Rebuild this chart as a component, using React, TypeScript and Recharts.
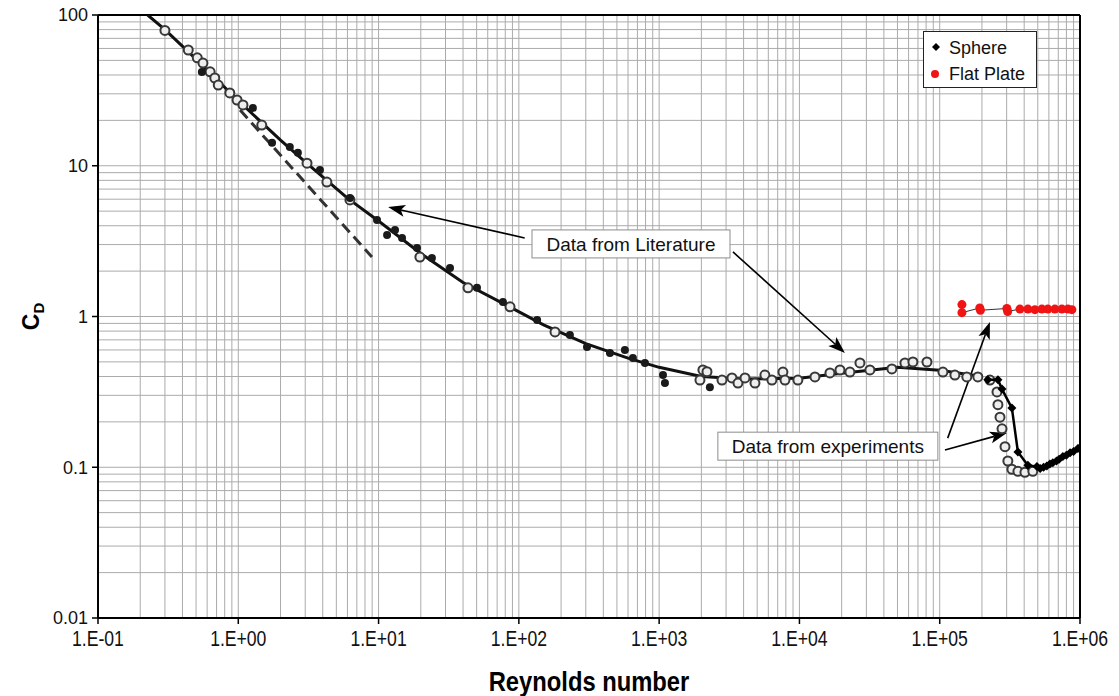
import React from "react";
import { ComposedChart, Scatter, XAxis, YAxis, ReferenceLine, ReferenceDot } from "recharts";

// axis structure
const xDecades = [0.1, 1, 10, 100, 1000, 10000, 100000, 1000000];
const yDecades = [0.01, 0.1, 1, 10, 100];
const minorSteps = [2, 3, 4, 5, 6, 7, 8, 9];

// Literature data, open circles [Re, Cd]
const literatureOpen: [number, number][] = [
  [0.3, 79], [0.44, 58.6], [0.51, 52], [0.56, 48], [0.63, 42], [0.68, 38.2], [0.72, 34.3],
  [0.87, 30.4], [0.98, 27.3], [1.08, 25.3], [1.47, 18.6], [3.09, 10.4], [4.28, 7.8], [6.25, 5.93],
  [19.7, 2.48], [43.4, 1.55], [86.5, 1.16], [181, 0.79],
  [1954, 0.379], [2051, 0.442], [2193, 0.43], [2805, 0.379], [3304, 0.391], [3647, 0.362],
  [4093, 0.391], [4820, 0.362], [5675, 0.409], [6368, 0.379], [7627, 0.428], [7889, 0.379],
  [9750, 0.379], [12900, 0.397], [16500, 0.422], [19450, 0.442], [22900, 0.428], [27000, 0.492],
  [31800, 0.442], [45600, 0.449], [56500, 0.492], [64400, 0.499], [81100, 0.499],
  [105400, 0.428], [128300, 0.409], [156000, 0.397], [187000, 0.397], [228000, 0.379],
  [256000, 0.316], [260000, 0.26], [269000, 0.215], [278000, 0.18], [292000, 0.137],
  [306000, 0.11], [327000, 0.097], [361000, 0.094], [405000, 0.0925], [461000, 0.094],
];

// Literature data, filled dots [Re, Cd]
const literatureFilled: [number, number][] = [
  [0.55, 41.9], [1.27, 24.2], [1.74, 14.2], [2.33, 13.3], [2.66, 12.2], [3.82, 9.37], [6.25, 6.11],
  [9.75, 4.36], [11.5, 3.47], [13.1, 3.75], [14.7, 3.32], [18.8, 2.85], [24, 2.44], [32.3, 2.1],
  [50.3, 1.55], [77, 1.25], [135, 0.948], [231, 0.754], [306, 0.628], [446, 0.573], [570, 0.6],
  [650, 0.531], [792, 0.492], [1065, 0.409], [1100, 0.362], [2300, 0.34],
];

// standard drag curve through the literature data
const literatureCurve: [number, number][] = [
  [0.226, 100], [0.3, 80], [0.5, 51], [1, 27], [2, 14.8], [3, 10.6], [6, 6.1], [10, 4.3],
  [20, 2.62], [40, 1.68], [80, 1.2], [150, 0.88], [300, 0.66], [600, 0.53], [1000, 0.46],
  [2000, 0.4], [4000, 0.385], [10000, 0.39], [20000, 0.42], [50000, 0.46], [100000, 0.44],
  [200000, 0.4],
];

// Stokes law (dashed)
const stokesLine: [number, number][] = [[1.03, 23.4], [8.97, 2.48]];

// experiments
const sphere: [number, number][] = [
  [220000, 0.38], [260000, 0.38], [278000, 0.33], [327000, 0.247], [361000, 0.126],
  [425000, 0.103], [493000, 0.101], [520000, 0.098], [550000, 0.1], [580000, 0.102],
  [610000, 0.105], [640000, 0.107], [680000, 0.11], [710000, 0.113], [755000, 0.118],
  [800000, 0.12], [850000, 0.125], [900000, 0.127], [966000, 0.133], [1000000, 0.135],
];

const flatPlate: [number, number][] = [
  [144000, 1.2], [144000, 1.06], [193000, 1.14], [195000, 1.1], [301000, 1.13], [305000, 1.08],
  [373000, 1.12], [425000, 1.12], [477000, 1.11], [535000, 1.12], [590000, 1.12], [662000, 1.12],
  [743000, 1.12], [820000, 1.12], [875000, 1.11],
];

// annotations: box centres and arrows (data coordinates)
const literatureBox = { x: 630, y: 3.03, label: "Data from Literature", width: 198 };
const experimentsBox = { x: 15950, y: 0.138, label: "Data from experiments", width: 220 };
const arrows: [[number, number], [number, number]][] = [
  [[110, 3.32], [11.7, 5.32]],
  [[3360, 2.68], [21100, 0.573]],
  [[109000, 0.13], [301000, 0.169]],
  [[114000, 0.156], [228000, 0.919]],
];

const xGrid = xDecades.slice(0, -1).flatMap((d) => minorSteps.map((m) => d * m)).concat(xDecades.slice(1, -1));
const yGrid = yDecades.slice(0, -1).flatMap((d) => minorSteps.map((m) => d * m)).concat(yDecades.slice(1, -1));

const toPoints = (arr: [number, number][]) => arr.map(([x, y]) => ({ x, y }));

const font = "'Liberation Sans', Arial, sans-serif";

const formatRe = (v: number) => {
  const e = Math.round(Math.log10(v));
  return `1.E${e < 0 ? "-" : "+"}${String(Math.abs(e)).padStart(2, "0")}`;
};

// condensed x tick labels (the original uses a narrow face)
const ReTick = (p: any) => (
  <text
    transform={`translate(${p.x}, ${p.y + 18}) scale(0.8, 1)`}
    textAnchor="middle"
    fontFamily={font}
    fontSize={22}
    fill="#111"
  >
    {formatRe(p.payload.value)}
  </text>
);

const OpenCircle = (p: any) => (
  <circle cx={p.cx} cy={p.cy} r={4.5} fill="#eeeeee" stroke="#383838" strokeWidth={2} />
);
const FilledDot = (p: any) => <circle cx={p.cx} cy={p.cy} r={4} fill="#1a1a1a" />;
const Diamond = (p: any) => (
  <polygon
    points={`${p.cx},${p.cy - 4.5} ${p.cx + 4.5},${p.cy} ${p.cx},${p.cy + 4.5} ${p.cx - 4.5},${p.cy}`}
    fill="#000"
  />
);
const RedDot = (p: any) => <circle cx={p.cx} cy={p.cy} r={4.5} fill="#f01414" />;
const NoMark = () => <g />;

const Arrow = (p: any) => {
  const { x1, y1, x2, y2 } = p;
  const dx = x2 - x1;
  const dy = y2 - y1;
  const len = Math.sqrt(dx * dx + dy * dy);
  const ux = dx / len;
  const uy = dy / len;
  const hl = 17;
  const hw = 6;
  const bx = x2 - ux * hl;
  const by = y2 - uy * hl;
  return (
    <g>
      <line x1={x1} y1={y1} x2={bx + ux * 4} y2={by + uy * 4} stroke="#000" strokeWidth={1.6} />
      <polygon
        points={`${x2},${y2} ${bx - uy * hw},${by + ux * hw} ${bx + ux * 4},${by + uy * 4} ${bx + uy * hw},${by - ux * hw}`}
        fill="#000"
      />
    </g>
  );
};

const makeBox = (label: string, width: number) => (p: any) => (
  <g>
    <rect x={p.cx - width / 2} y={p.cy - 14} width={width} height={28} fill="#fff" stroke="#8c8c8c" strokeWidth={1} />
    <text x={p.cx} y={p.cy + 7} textAnchor="middle" fontFamily={font} fontSize={19} fill="#111">
      {label}
    </text>
  </g>
);

const YTitle = (props: any) => {
  const vb = props.viewBox || { x: 0, y: 15, width: 98, height: 603 };
  const cx = 31;
  const cy = vb.y + vb.height / 2;
  return (
    <text
      transform={`rotate(-90, ${cx}, ${cy})`}
      x={cx}
      y={cy + 8}
      textAnchor="middle"
      fontFamily={font}
      fontWeight="bold"
      fontSize={23}
      fill="#000"
    >
      C<tspan fontSize={15} dy={5}>D</tspan>
    </text>
  );
};

const XTitle = (props: any) => {
  const vb = props.viewBox || { x: 98, y: 618, width: 982, height: 78 };
  return (
    <text
      transform={`translate(${vb.x + vb.width / 2}, ${vb.y + 73}) scale(0.88, 1)`}
      textAnchor="middle"
      fontFamily={font}
      fontWeight="bold"
      fontSize={27}
      fill="#000"
    >
      Reynolds number
    </text>
  );
};

export default function App() {
  return (
    <div style={{ position: "absolute", left: 0, top: 0, width: 1119, height: 696, background: "#fff" }}>
      <ComposedChart width={1119} height={696} margin={{ top: 15, right: 39, bottom: 0, left: 0 }}>
        <XAxis
          type="number"
          dataKey="x"
          scale="log"
          domain={[0.1, 1000000]}
          ticks={xDecades}
          allowDataOverflow
          height={78}
          tickSize={6}
          tickMargin={4}
          axisLine={{ stroke: "#000", strokeWidth: 2 }}
          tickLine={{ stroke: "#000", strokeWidth: 1.5 }}
          tick={<ReTick />}
          label={<XTitle />}
        />
        <YAxis
          type="number"
          dataKey="y"
          scale="log"
          domain={[0.01, 100]}
          ticks={yDecades}
          allowDataOverflow
          width={98}
          tickSize={6}
          tickMargin={4}
          axisLine={{ stroke: "#000", strokeWidth: 2 }}
          tickLine={{ stroke: "#000", strokeWidth: 1.5 }}
          tick={{ fontFamily: font, fontSize: 18, fill: "#111" }}
          label={<YTitle />}
        />
        {xGrid.map((v) => (
          <ReferenceLine key={`gx${v}`} x={v} stroke="#ababab" strokeWidth={1} />
        ))}
        {yGrid.map((v) => (
          <ReferenceLine key={`gy${v}`} y={v} stroke="#ababab" strokeWidth={1} />
        ))}
        <ReferenceLine y={100} stroke="#000" strokeWidth={2} />
        <ReferenceLine x={1000000} stroke="#000" strokeWidth={2} />

        <Scatter
          data={toPoints(stokesLine)}
          shape={NoMark}
          line={{ stroke: "#333", strokeWidth: 3, strokeDasharray: "11 6" }}
          isAnimationActive={false}
        />
        <Scatter
          data={toPoints(literatureCurve)}
          shape={NoMark}
          line={{ stroke: "#111", strokeWidth: 3 }}
          isAnimationActive={false}
        />
        <Scatter data={toPoints(literatureOpen)} shape={OpenCircle} isAnimationActive={false} />
        <Scatter data={toPoints(literatureFilled)} shape={FilledDot} isAnimationActive={false} />
        <Scatter
          data={toPoints(flatPlate)}
          shape={RedDot}
          line={{ stroke: "#333", strokeWidth: 1 }}
          isAnimationActive={false}
        />
        <Scatter
          data={toPoints(sphere)}
          shape={Diamond}
          line={{ stroke: "#000", strokeWidth: 2.5 }}
          isAnimationActive={false}
        />

        {arrows.map(([a, b], i) => (
          <ReferenceLine
            key={`ar${i}`}
            segment={[{ x: a[0], y: a[1] }, { x: b[0], y: b[1] }]}
            shape={Arrow}
          />
        ))}
        <ReferenceDot
          x={literatureBox.x}
          y={literatureBox.y}
          shape={makeBox(literatureBox.label, literatureBox.width)}
        />
        <ReferenceDot
          x={experimentsBox.x}
          y={experimentsBox.y}
          shape={makeBox(experimentsBox.label, experimentsBox.width)}
        />
      </ComposedChart>

      <div
        style={{
          position: "absolute",
          left: 923,
          top: 31,
          width: 114,
          height: 57,
          border: "1px solid #222",
          background: "#fff",
          fontFamily: font,
          fontSize: 18,
          color: "#111",
          boxSizing: "border-box",
          padding: "3px 0 0 6px",
          lineHeight: "26px",
        }}
      >
        <div style={{ display: "flex", alignItems: "center" }}>
          <svg width={14} height={14} style={{ marginRight: 5 }}>
            <polygon points="6,2 10,6 6,10 2,6" fill="#000" />
          </svg>
          Sphere
        </div>
        <div style={{ display: "flex", alignItems: "center" }}>
          <svg width={14} height={14} style={{ marginRight: 5 }}>
            <circle cx={5} cy={7} r={4} fill="#f01414" />
          </svg>
          Flat Plate
        </div>
      </div>
    </div>
  );
}
